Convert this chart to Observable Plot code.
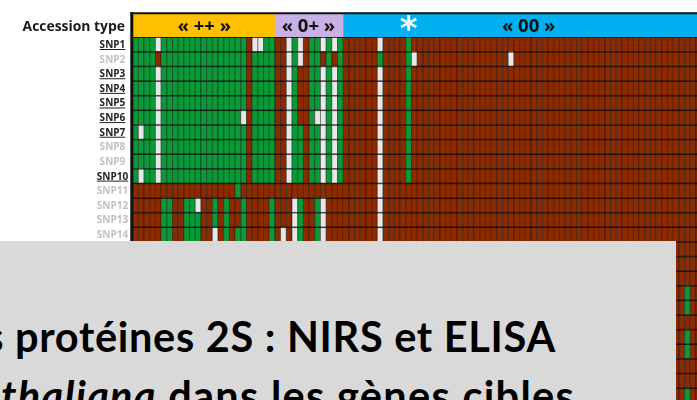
<!DOCTYPE html>
<html><head><meta charset="utf-8">
<script src="https://cdn.jsdelivr.net/npm/d3@7"></script>
<script src="https://cdn.jsdelivr.net/npm/@observablehq/plot@0.6"></script>
<style>
html,body{margin:0;padding:0;background:#fff;width:697px;height:400px;overflow:hidden}
#wrap{position:relative;width:697px;height:400px;overflow:hidden}
#panel{position:absolute;left:0;top:241px;width:676px;height:159px;background:#d9d9d9;overflow:hidden;font-family:Lato,sans-serif;font-weight:700;color:#000;font-size:41.5px;white-space:nowrap}
#panel div{position:absolute}
.under text{text-decoration:underline}
</style></head><body>
<div id="wrap"><div id="chart"></div>
<div id="panel">
<div style="right:120px;top:70px;letter-spacing:.7px">s protéines 2S : NIRS et ELISA</div>
<div style="right:101px;top:129px;letter-spacing:1.3px"><i>thaliana</i> dans les gènes cibles</div>
</div></div>
<script>
const colCount = 100;
const rowCount = 25;
const snpNames = ["SNP1","SNP2","SNP3","SNP4","SNP5","SNP6","SNP7","SNP8","SNP9","SNP10","SNP11","SNP12","SNP13","SNP14"];
const underlined = ["SNP1","SNP3","SNP4","SNP5","SNP6","SNP7","SNP10"];
// G green, B brown, W white: first 37 accessions of each SNP row
const leftRows = [
"GGGGWGGGGGGGGGGGGGGGBWWGGBBWGWBGGWGWG",
"GGGGBGGGGGGGGGGGGGGGBGGGGBBWGWBGGBGBG",
"GGGGWGGGGGGGGGGGGGGGBGGGGBBWGBBGGWGWG",
"GGGGWGGGGGGGGGGGGGGGBGGGGBBWGBBGGWGWG",
"GGGGWGGGGGGGGGGGGGGGBGGGGBBWGBBGGWGWG",
"GGGGWGGGGGGGGGGGGGGWBGGGGBBWGBBGWWGWG",
"GWGGWGGGGGGGGGGGGGGGBGGGGBBWGGBGGWGWG",
"GGGGWGGGGGGGGGGGGGGGBGGGGBBWGGBGGWGWG",
"GGGGWGGGGGGGGGGGGGGGBGGGGBBWGGBGGWGWG",
"GWGGWGGGGGGGGGGGGGGGBGGGGBBWGGBGGWGWG",
"BBBBBBBBBBBBBBBBBBGBBBBBBBBBBBBBBBBBB",
"BBBBBGGBBGGWBBGBGBBGBBBBGBBBWGBBGWBBB",
"BBBBBGGBBGGGBBGBGBBGBBBBGBBBWGBBGWBBB",
"BBBBBGGBBGGGBBWBGBGGBBBBGBWBWGBBGWBBB"
];
// exceptions to brown in the "00" group: [row, column]
const whiteCells = [[0,43],[2,43],[3,43],[4,43],[5,43],[6,43],[7,43],[8,43],[9,43],[10,43],[11,43],[12,43],[13,43],[1,49],[1,66]];
const greenCells = [[1,43],[0,48],[1,48],[2,48],[3,48],[4,48],[5,48],[6,48],[7,48],[8,48],[9,48],[17,97],[18,97],[20,97],[21,97],[24,97]];
const groups = [
  {name:"« ++ »", start:0, end:25, fill:"#ffc000", mid:12.5},
  {name:"« 0+ »", start:25, end:37, fill:"#c9b1e6", mid:30.8},
  {name:"« 00 »", start:37, end:colCount, fill:"#00b0f0", mid:69.5}
];
const stateColors = {G:"#0a9a38", B:"#8c2a00", W:"#e8e8e8"};

const cells = [];
for (let r = 0; r < rowCount; r++) for (let c = 0; c < colCount; c++) {
  let s = (leftRows[r] && leftRows[r][c]) || "B";
  if (whiteCells.some(d => d[0]===r && d[1]===c)) s = "W";
  if (greenCells.some(d => d[0]===r && d[1]===c)) s = "G";
  cells.push({r, c, s});
}
const rowIdx = d3.range(rowCount + 1);
const labels = snpNames.map((name,i)=>({name,i,u:underlined.includes(name)}));
const darkLabels = labels.filter(d=>d.u), lightLabels = labels.filter(d=>!d.u);
const font = "'Open Sans',sans-serif";

const plot = Plot.plot({
  width:697, height:400, margin:0, marginTop:0, marginLeft:0, marginRight:0, marginBottom:0,
  style:{background:"transparent", overflow:"hidden", filter:"blur(0.45px)"},
  x:{type:"linear", domain:[0,colCount], range:[132.7,701.7], axis:null},
  y:{type:"linear", domain:[-1.6,rowCount], range:[13.6,402.5], axis:null},
  marks:[
    Plot.rect(cells,{x1:"c", x2:d=>d.c+1, y1:"r", y2:d=>d.r+1, fill:d=>stateColors[d.s], stroke:"#000", strokeOpacity:0.38, strokeWidth:1}),
    Plot.ruleY(rowIdx,{x1:0, x2:colCount, stroke:"#000", strokeOpacity:0.7, strokeWidth:1}),
    Plot.rect(groups,{x1:"start", x2:"end", y1:-1.6, y2:0, fill:"fill"}),
    Plot.ruleY([-1.65],{x1:-0.4, x2:colCount, stroke:"#111", strokeWidth:2}),
    Plot.ruleX([-0.25],{y1:-1.7, y2:rowCount, stroke:"#111", strokeWidth:3}),
    Plot.text(groups,{x:"mid", y:-0.76, text:"name", fill:"#111", fontSize:18.5, fontWeight:700, fontFamily:font}),
    Plot.text(["*"],{x:48.4, y:-0.55, text:d=>d, fill:"#fff", fontSize:34, fontWeight:700, fontFamily:"'DejaVu Sans',sans-serif"}),
    Plot.text(["Accession type"],{x:-1.44, y:-0.72, text:d=>d, textAnchor:"end", fill:"#1a1a1a", fontSize:13.9, fontWeight:700, fontFamily:font}),
    Plot.text(darkLabels,{x:-3.65, y:d=>d.i+0.5, text:"name", fill:"#222", fontSize:10, fontWeight:700, fontFamily:font, className:"under"}),
    Plot.text(lightLabels,{x:-3.65, y:d=>d.i+0.5, text:"name", fill:"#c0c0c0", fontSize:10, fontWeight:700, fontFamily:font})
  ]
});
document.getElementById("chart").append(plot);
</script>
</body></html>
